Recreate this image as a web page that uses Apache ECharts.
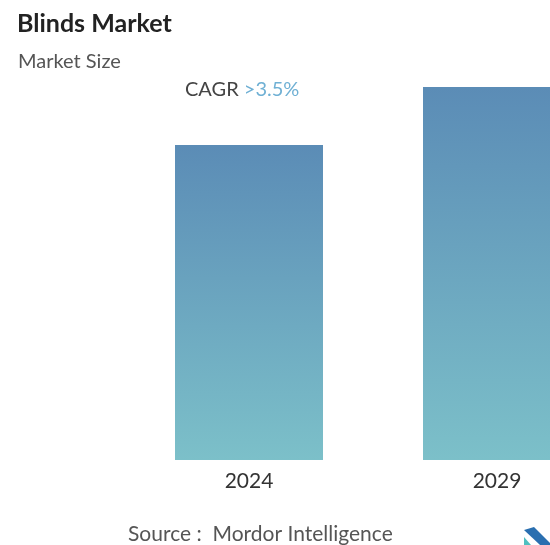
<!DOCTYPE html>
<html>
<head>
<meta charset="utf-8">
<script src="https://cdn.jsdelivr.net/npm/echarts@6/dist/echarts.min.js"></script>
<style>
html,body{margin:0;padding:0;background:#fff;}
#main{width:550px;height:545px;}
</style>
</head>
<body>
<div id="main"></div>
<script>
const categories = ['2024', '2029'];
const marketSize = [315, 373];
const titleText = 'Blinds Market';
const subtitleText = 'Market Size';
const cagrLabel = 'CAGR ';
const cagrValue = '>3.5%';
const sourceText = 'Source :  Mordor Intelligence';

const chart = echarts.init(document.getElementById('main'));
const FONT = 'Lato, "Open Sans", sans-serif';
chart.setOption({
  backgroundColor: '#ffffff',
  animation: false,
  title: [
    { text: titleText, left: 12, top: 6,
      textStyle: { fontFamily: FONT, fontSize: 25, fontWeight: 'bold', color: '#222' } },
    { text: subtitleText, left: 13, top: 47,
      textStyle: { fontFamily: FONT, fontSize: 20, fontWeight: 'normal', color: '#555' } }
  ],
  grid: { left: 125, top: 60, width: 496, height: 400, outerBoundsMode: 'none', containLabel: false },
  xAxis: {
    type: 'category', data: categories,
    axisLine: { show: false }, axisTick: { show: false },
    axisLabel: { fontFamily: FONT, fontSize: 21, color: '#333', margin: 11 }
  },
  yAxis: { type: 'value', min: 0, max: 400, show: false, splitLine: { show: false } },
  series: [{
    type: 'bar', data: marketSize, barWidth: 148,
    itemStyle: {
      color: new echarts.graphic.LinearGradient(0, 0, 0, 1, [
        { offset: 0, color: '#5b8cb6' },
        { offset: 1, color: '#7cc0c9' }
      ])
    }
  }],
  graphic: [
    { type: 'text', left: 185, top: 80,
      style: { rich: {
        a: { fontFamily: FONT, fontSize: 20, fill: '#444' },
        b: { fontFamily: FONT, fontSize: 20, fill: '#6fb0d4' }
      }, text: '{a|' + cagrLabel + '}{b|' + cagrValue + '}' } },
    { type: 'text', left: 128, top: 524,
      style: { text: sourceText, fontFamily: FONT, fontSize: 21, fill: '#555' } },
    { type: 'polygon', shape: { points: [[524,530],[534,527],[550,543],[550,545],[540,545]] },
      style: { fill: '#2a6fb0' } },
    { type: 'polygon', shape: { points: [[524,537],[531,545],[524,545]] },
      style: { fill: '#4fc0c0' } }
  ]
});
</script>
</body>
</html>
